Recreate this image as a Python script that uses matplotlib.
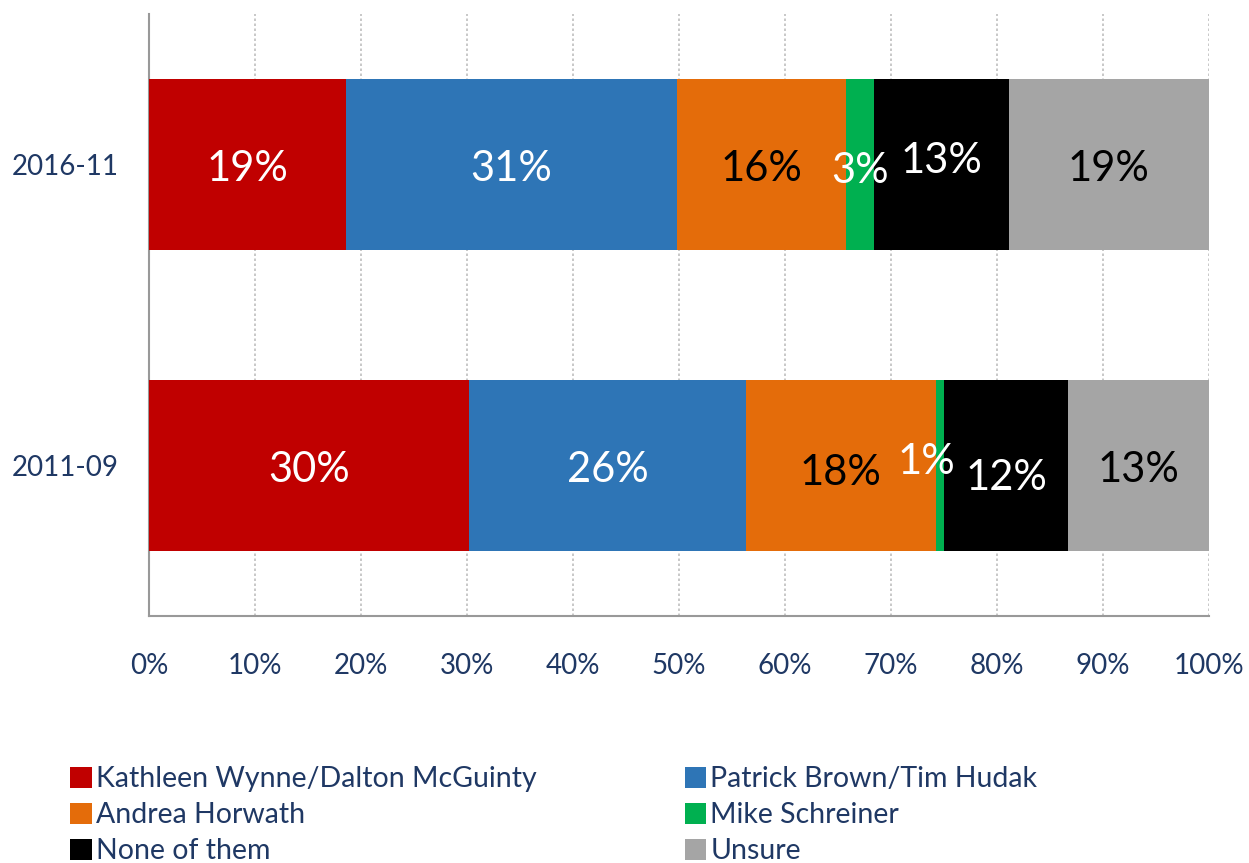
import matplotlib
matplotlib.use("Agg")
import matplotlib.pyplot as plt
from matplotlib.patches import Patch

categories = ["2016-11", "2011-09"]
series_names = ["Kathleen Wynne/Dalton McGuinty", "Patrick Brown/Tim Hudak",
                "Andrea Horwath", "Mike Schreiner", "None of them", "Unsure"]
values_2016 = [18.6, 31.2, 16.0, 2.6, 12.7, 18.9]
values_2011 = [30.2, 26.1, 17.9, 0.8, 11.7, 13.3]
labels_2016 = ["19%", "31%", "16%", "3%", "13%", "19%"]
labels_2011 = ["30%", "26%", "18%", "1%", "12%", "13%"]
colors = ["#C00000", "#2E75B6", "#E46C0A", "#00B050", "#000000", "#A5A5A5"]
label_colors = ["white", "white", "black", "white", "white", "black"]
x_ticks = [0, 10, 20, 30, 40, 50, 60, 70, 80, 90, 100]
x_tick_labels = [f"{t}%" for t in x_ticks]

# small label nudges (x in %, y in category units) mimicking the reference placement
nudges = {(0, 4): (0.0, -0.025), (1, 3): (-1.3, -0.025), (1, 4): (0.0, 0.025),
          (1, 2): (0.0, 0.01), (0, 3): (0.0, 0.005)}

FONT = ["Lato", "DejaVu Sans"]
plt.rcParams['font.family'] = FONT
text_col = "#1F3864"

fig = plt.figure(figsize=(12.49, 8.63), dpi=100)
ax = fig.add_axes([149/1249, 1 - 616/863, 1060/1249, 602/863])

all_vals = [values_2016, values_2011]
all_labels = [labels_2016, labels_2011]
for ci, (vals, labs) in enumerate(zip(all_vals, all_labels)):
    left = 0
    for si, v in enumerate(vals):
        ax.barh(ci, v, left=left, height=0.567, color=colors[si], zorder=3)
        dx, dy = nudges.get((ci, si), (0, 0))
        ax.text(left + v/2 + dx, ci + dy + 0.015, labs[si], ha="center", va="center",
                color=label_colors[si], fontsize=30, zorder=4)
        left += v

ax.set_ylim(1.5, -0.5)
ax.set_xlim(0, 100)
ax.set_yticks(range(len(categories)))
ax.set_yticklabels(categories, fontsize=20, color=text_col)
ax.set_xticks(x_ticks)
ax.set_xticklabels(x_tick_labels, fontsize=20, color=text_col)
ax.tick_params(axis="both", length=0)
ax.tick_params(axis="x", pad=27)
ax.tick_params(axis="y", pad=22)
ax.grid(axis="x", color="#BFBFBF", linestyle=(0, (1.5, 1.5)), linewidth=1.2, zorder=0)
for s in ["top", "right"]:
    ax.spines[s].set_visible(False)
for s in ["left", "bottom"]:
    ax.spines[s].set_color("#999999")
    ax.spines[s].set_linewidth(1.5)

order = [0, 2, 4, 1, 3, 5]
handles = [Patch(facecolor=colors[i], label=series_names[i]) for i in order]
leg = fig.legend(handles=handles, loc="upper left", bbox_to_anchor=(56/1249, 1 - 752/863),
                 ncol=2, frameon=False, fontsize=20.5, handlelength=0.75, handleheight=0.75,
                 handletextpad=0.15, columnspacing=5.2, labelspacing=0.35, borderpad=0)
for t in leg.get_texts():
    t.set_color(text_col)

fig.savefig("out.png", dpi=100)
